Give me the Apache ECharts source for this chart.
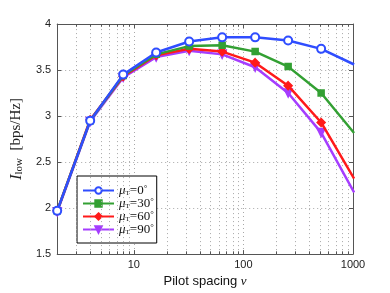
<!DOCTYPE html>
<html><head><meta charset="utf-8">
<script src="https://cdn.jsdelivr.net/npm/echarts@6/dist/echarts.min.js"></script>
<style>html,body{margin:0;padding:0;background:#fff}#c{width:390px;height:293px}</style>
</head><body><div id="c"></div>
<script>
const xValues = [2, 4, 8, 16, 32, 64, 128, 256, 512, 1024];
const mu0  = [1.97, 2.95, 3.45, 3.69, 3.81, 3.855, 3.855, 3.82, 3.73, 3.56];
const mu30 = [1.97, 2.95, 3.44, 3.67, 3.76, 3.77, 3.70, 3.537, 3.25, 2.815];
const mu60 = [1.97, 2.96, 3.43, 3.66, 3.73, 3.70, 3.58, 3.33, 2.93, 2.32];
const mu90 = [1.96, 2.94, 3.42, 3.64, 3.71, 3.67, 3.53, 3.25, 2.82, 2.17];
const angles = ['0', '30', '60', '90'];
const xTickLabels = [10, 100, 1000];
const minorX = [3,4,5,6,7,8,9,20,30,40,50,60,70,80,90,200,300,400,500,600,700,800,900];

const colors = ['#2f4dff', '#33a033', '#ff1a1a', '#a53dff'];
const symbols = ['emptyCircle', 'rect', 'diamond', 'triangle'];
const sizes = [8, 6, 8, 8];
const rotates = [0, 0, 0, 180];
const vals = [mu0, mu30, mu60, mu90];
const names = angles.map(a => 'mu' + a);

const gridLine = () => ({type: [1, 3], color: '#a8a8a8', width: 1});
const axisCol = '#555';

const series = vals.map((v, i) => ({
  name: names[i],
  type: 'line',
  data: xValues.map((x, j) => [x, v[j]]),
  symbol: symbols[i],
  symbolSize: sizes[i],
  symbolRotate: rotates[i],
  showAllSymbol: true,
  lineStyle: {width: 2.5, color: colors[i], type: 'solid'},
  itemStyle: {color: colors[i], borderColor: colors[i], borderWidth: 1.5},
  clip: true,
  z: 10 - i
}));

// minor grid lines and minor ticks on the log axis
series.push({
  name: 'minor', type: 'line', data: [], silent: true, z: 1,
  markLine: {
    silent: true, symbol: 'none', animation: false,
    label: {show: false},
    lineStyle: gridLine(),
    data: minorX.map(x => ({xAxis: x}))
      .concat(minorX.map(x => [{coord: [x, 1.5], lineStyle: {type: 'solid', color: axisCol, width: 1}}, {coord: [x, 1.53]}]))
      .concat(minorX.map(x => [{coord: [x, 4], lineStyle: {type: 'solid', color: axisCol, width: 1}}, {coord: [x, 3.97]}]))
  }
});

const chart = echarts.init(document.getElementById('c'));
chart.setOption({
  animation: false,
  backgroundColor: '#fff',
  grid: {left: 51, right: 37, top: 24, bottom: 33},
  legend: {
    left: 77, top: 176,
    orient: 'vertical',
    data: names,
    backgroundColor: '#fff',
    borderColor: '#000', borderWidth: 1, borderRadius: 0,
    padding: [8, 3, 7, 5],
    itemGap: 0,
    itemWidth: 31, itemHeight: 8,
    formatter: n => '{mu|μ}{sub|T}{t|=' + n.slice(2) + '}{sup|°}',
    textStyle: {
      fontFamily: 'Liberation Serif', fontSize: 12, color: '#111', lineHeight: 13,
      rich: {
        mu: {fontFamily: 'Liberation Serif', fontStyle: 'italic', fontSize: 13, lineHeight: 13},
        sub: {fontFamily: 'Liberation Serif', fontSize: 7, lineHeight: 7, verticalAlign: 'bottom'},
        t: {fontFamily: 'Liberation Serif', fontSize: 13, lineHeight: 13},
        sup: {fontFamily: 'Liberation Serif', fontSize: 9, lineHeight: 9, verticalAlign: 'top'}
      }
    }
  },
  xAxis: [{
    type: 'log', logBase: 10, min: 2, max: 1000,
    name: 'Pilot spacing {nu|ν}', nameLocation: 'middle', nameGap: 18,
    nameTextStyle: {fontFamily: 'Liberation Sans', fontSize: 13, color: '#111',
      rich: {nu: {fontFamily: 'Liberation Serif', fontStyle: 'italic', fontSize: 13}}},
    axisLine: {show: true, lineStyle: {color: axisCol, width: 1}},
    axisTick: {show: true, inside: true, length: 4, lineStyle: {color: axisCol}},
    axisLabel: {fontFamily: 'Liberation Sans', fontSize: 11, color: '#222', margin: 5,
      formatter: v => xTickLabels.includes(Math.round(v)) ? String(Math.round(v)) : ''},
    splitLine: {show: true, lineStyle: gridLine()}
  }, {
    type: 'log', logBase: 10, min: 2, max: 1000, position: 'top',
    axisLine: {show: true, lineStyle: {color: axisCol, width: 1}},
    axisTick: {show: true, inside: true, length: 4, lineStyle: {color: axisCol}},
    axisLabel: {show: false}, splitLine: {show: false}
  }],
  yAxis: [{
    type: 'value', min: 1.5, max: 4, interval: 0.5,
    name: '{i|I}{low|low}  [bps/Hz]', nameLocation: 'middle', nameGap: 25, nameRotate: 90,
    nameTextStyle: {fontFamily: 'Liberation Serif', fontSize: 15, color: '#222',
      rich: {i: {fontFamily: 'Liberation Serif', fontStyle: 'italic', fontSize: 17},
             low: {fontFamily: 'Liberation Serif', fontSize: 11, padding: [6, 0, 0, 0]}}},
    axisLine: {show: true, lineStyle: {color: axisCol, width: 1}},
    axisTick: {show: true, inside: true, length: 4, lineStyle: {color: axisCol}},
    axisLabel: {fontFamily: 'Liberation Sans', fontSize: 11, color: '#222', margin: 6,
      formatter: v => String(v)},
    splitLine: {show: true, lineStyle: gridLine()}
  }, {
    type: 'value', min: 1.5, max: 4, interval: 0.5, position: 'right',
    axisLine: {show: true, lineStyle: {color: axisCol, width: 1}},
    axisTick: {show: true, inside: true, length: 4, lineStyle: {color: axisCol}},
    axisLabel: {show: false}, splitLine: {show: false}
  }],
  series: series
});
</script></body></html>
